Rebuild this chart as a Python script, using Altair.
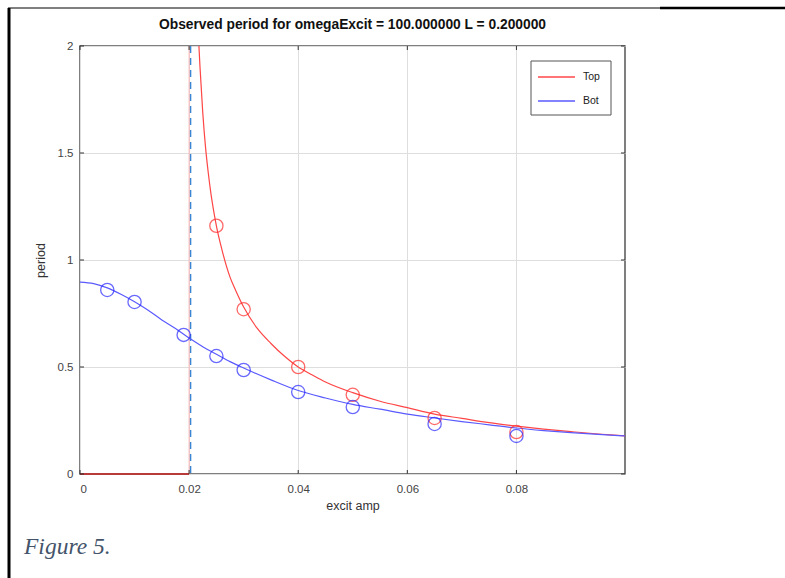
import altair as alt
import pandas as pd

# ---------------- data ----------------
top_curve_x = [0.0218, 0.022, 0.0225, 0.023, 0.0235, 0.024, 0.0245, 0.025, 0.026, 0.0275,
               0.0285, 0.03, 0.0325, 0.035, 0.0375, 0.04, 0.0425, 0.045,
               0.05, 0.055, 0.06, 0.065, 0.07, 0.075, 0.08, 0.085, 0.09, 0.095, 0.0999]
top_curve_y = [2.0, 1.90, 1.69, 1.53, 1.41, 1.31, 1.23, 1.16, 1.05, 0.92,
               0.86, 0.78, 0.68, 0.61, 0.55, 0.50, 0.464, 0.43,
               0.38, 0.34, 0.31, 0.28, 0.26, 0.24, 0.224, 0.21, 0.198, 0.187, 0.178]

bot_curve_x = [0.0, 0.0025, 0.005, 0.0075, 0.01, 0.0125, 0.015, 0.0175, 0.02, 0.0225,
               0.025, 0.0275, 0.03, 0.035, 0.04, 0.045, 0.05, 0.055, 0.06, 0.065,
               0.07, 0.075, 0.08, 0.085, 0.09, 0.095, 0.0999]
bot_curve_y = [0.897, 0.89, 0.87, 0.84, 0.805, 0.765, 0.72, 0.68, 0.635, 0.595,
               0.56, 0.525, 0.495, 0.44, 0.39, 0.355, 0.325, 0.303, 0.28, 0.262,
               0.245, 0.23, 0.215, 0.203, 0.193, 0.185, 0.178]

top_pts_x = [0.025, 0.03, 0.04, 0.05, 0.065, 0.08]
top_pts_y = [1.16, 0.77, 0.50, 0.37, 0.262, 0.196]

bot_pts_x = [0.005, 0.01, 0.019, 0.025, 0.03, 0.04, 0.05, 0.065, 0.08]
bot_pts_y = [0.86, 0.804, 0.65, 0.551, 0.486, 0.383, 0.313, 0.234, 0.178]

threshold_x = [0.02]
zero_seg_x = [0.0]
zero_seg_x2 = [0.02]

x_ticks = [0, 0.02, 0.04, 0.06, 0.08]
y_ticks = [0, 0.5, 1, 1.5, 2]
x_domain = [0, 0.0999]
y_domain = [0, 2]

series_names = ["Top", "Bot"]
line_colors = ["#ff4646", "#5a5aff"]

title_text = "Observed period for omegaExcit = 100.000000 L = 0.200000"
caption_text = "Figure 5."

# ---------------- tables ----------------
curves = pd.concat([
    pd.DataFrame({"x": top_curve_x, "y": top_curve_y, "series": "Top", "order": range(len(top_curve_x))}),
    pd.DataFrame({"x": bot_curve_x, "y": bot_curve_y, "series": "Bot", "order": range(len(bot_curve_x))}),
])
top_pts = pd.DataFrame({"x": top_pts_x, "y": top_pts_y})
bot_pts = pd.DataFrame({"x": bot_pts_x, "y": bot_pts_y})
thr = pd.DataFrame({"x": threshold_x})
zseg = pd.DataFrame({"x": zero_seg_x, "x2": zero_seg_x2, "y": [0.0]})
xt = pd.DataFrame({"x": x_ticks})
yt = pd.DataFrame({"y": y_ticks})

W, H = 545, 428
FONT = "Liberation Sans"

xs = alt.Scale(domain=x_domain, nice=False, zero=False)
ys = alt.Scale(domain=y_domain, nice=False, zero=False)

x_axis = alt.Axis(values=x_ticks, format="~g", title="excit amp", grid=True,
                  gridColor="#dedede", domain=False, ticks=False,
                  labelFontSize=11.5, labelColor="#444", labelPadding=9,
                  titleFontSize=12.5, titleFontWeight="normal", titleColor="#333",
                  titlePadding=5, labelFont=FONT, titleFont=FONT)
y_axis = alt.Axis(values=y_ticks, format="~g", title="period", grid=True,
                  gridColor="#dedede", domain=False, ticks=False,
                  labelFontSize=11.5, labelColor="#444", labelPadding=7,
                  titleFontSize=12.5, titleFontWeight="normal", titleColor="#333",
                  titlePadding=10, labelFont=FONT, titleFont=FONT)

base_grid = alt.Chart(curves).mark_line(opacity=0).encode(
    x=alt.X("x:Q", scale=xs, axis=x_axis),
    y=alt.Y("y:Q", scale=ys, axis=y_axis),
)

lines = alt.Chart(curves).mark_line(strokeWidth=1.2, clip=True, interpolate="monotone").encode(
    x=alt.X("x:Q", scale=xs),
    y=alt.Y("y:Q", scale=ys),
    order="order:Q",
    color=alt.Color("series:N", scale=alt.Scale(domain=series_names, range=line_colors),
                    legend=None),
)

pink = alt.Chart(thr).mark_rule(color="#ffb4b4", strokeWidth=1).encode(
    x=alt.X("x:Q", scale=xs), y=alt.value(0), y2=alt.value(H))
dashed = alt.Chart(thr).mark_rule(color="#3a86d4", strokeWidth=1.4, strokeDash=[7, 5],
                                  xOffset=1.5).encode(
    x=alt.X("x:Q", scale=xs), y=alt.value(0), y2=alt.value(H))

zero_line = alt.Chart(zseg).mark_rule(color="#b83a3a", strokeWidth=2).encode(
    x=alt.X("x:Q", scale=xs), x2="x2:Q", y=alt.Y("y:Q", scale=ys))

red_pts = alt.Chart(top_pts).mark_point(shape="circle", size=175, color="#ff2a2a",
                                        strokeWidth=1.3, filled=False).encode(
    x=alt.X("x:Q", scale=xs), y=alt.Y("y:Q", scale=ys))
blue_pts = alt.Chart(bot_pts).mark_point(shape="circle", size=175, color="#2a2aff",
                                         strokeWidth=1.3, filled=False).encode(
    x=alt.X("x:Q", scale=xs), y=alt.Y("y:Q", scale=ys))

tick_col = "#333"
xt_bottom = alt.Chart(xt).mark_rule(color=tick_col, strokeWidth=1).encode(
    x=alt.X("x:Q", scale=xs), y=alt.value(H), y2=alt.value(H - 4))
xt_top = alt.Chart(xt).mark_rule(color=tick_col, strokeWidth=1).encode(
    x=alt.X("x:Q", scale=xs), y=alt.value(0), y2=alt.value(4))
yt_left = alt.Chart(yt).mark_rule(color=tick_col, strokeWidth=1).encode(
    y=alt.Y("y:Q", scale=ys), x=alt.value(0), x2=alt.value(4))
yt_right = alt.Chart(yt).mark_rule(color=tick_col, strokeWidth=1).encode(
    y=alt.Y("y:Q", scale=ys), x=alt.value(W), x2=alt.value(W - 4))

# legend box (drawn by hand to match the compact original)
leg_layers = [alt.Chart(thr).mark_rect(fill="white", stroke="#555", strokeWidth=1).encode(
    x=alt.value(451), x2=alt.value(531), y=alt.value(15), y2=alt.value(69))]
for i, (name, col) in enumerate(zip(series_names, line_colors)):
    row_y = 31 + 24 * i
    leg_layers.append(alt.Chart(thr).mark_rule(strokeWidth=1.3, color=col).encode(
        x=alt.value(458), x2=alt.value(495), y=alt.value(row_y)))
    leg_layers.append(alt.Chart(thr).mark_text(text=name, align="left", baseline="middle",
                                               fontSize=10.5, font=FONT, color="#222").encode(
        x=alt.value(503), y=alt.value(row_y)))

# decorations outside the plot (page frame, title and caption)
frame_top = alt.Chart(thr).mark_rule(color="black", strokeWidth=1, clip=False).encode(
    x=alt.value(-72), x2=alt.value(705), y=alt.value(-38))
frame_top2 = alt.Chart(thr).mark_rule(color="black", strokeWidth=2.5, clip=False).encode(
    x=alt.value(580), x2=alt.value(705), y=alt.value(-38))
frame_left = alt.Chart(thr).mark_rule(color="black", strokeWidth=3, clip=False).encode(
    x=alt.value(-71), y=alt.value(-38), y2=alt.value(540))
title = alt.Chart(thr).mark_text(text=title_text, font=FONT, fontWeight="bold",
                                 fontSize=13.8, color="#111", align="center",
                                 baseline="middle", clip=False).encode(
    x=alt.value(W / 2), y=alt.value(-21))
caption = alt.Chart(thr).mark_text(text=caption_text, font="Liberation Serif", fontStyle="italic",
                                   fontSize=23.5, color="#44546a", align="left",
                                   baseline="alphabetic", clip=False).encode(
    x=alt.value(-56), y=alt.value(508))

chart = alt.layer(
    base_grid, pink, dashed, zero_line, lines, red_pts, blue_pts,
    xt_bottom, xt_top, yt_left, yt_right,
    *leg_layers,
    frame_top, frame_top2, frame_left, title, caption,
).properties(
    width=W, height=H,
    autosize=alt.AutoSizeParams(type="none"),
    padding={"left": 80, "top": 46, "right": 160, "bottom": 104},
    background="white",
).configure_view(stroke="#555", strokeWidth=1.5)

chart.save("out.html", embed_options={"renderer": "svg", "actions": False})
